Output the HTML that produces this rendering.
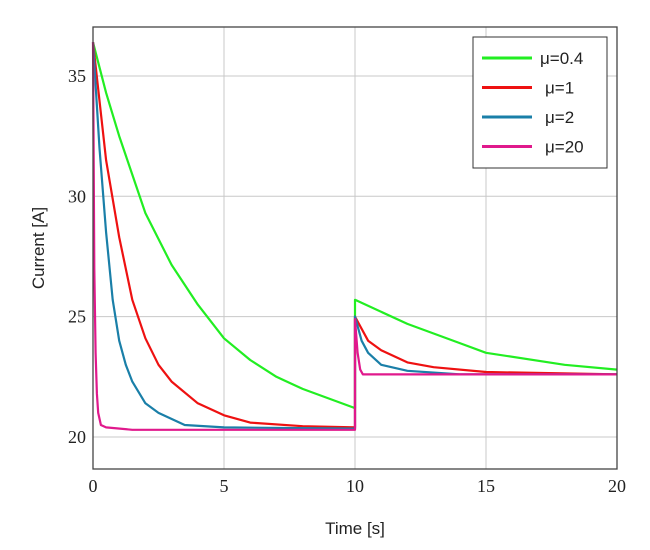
<!DOCTYPE html>
<html><head><meta charset="utf-8"><style>
body{margin:0;background:#fff;}
svg text{font-family:"Liberation Sans",sans-serif;}
.tick{font-family:"Liberation Serif",serif;font-size:18px;fill:#222;}
</style></head><body>
<svg width="650" height="545" xmlns="http://www.w3.org/2000/svg">
<g id="grid"></g><g id="series"></g><g id="ticks"></g>
<rect x="93" y="27" width="524" height="442" fill="none" stroke="#444" stroke-width="1.3"/>
<text x="44" y="248" font-size="17" fill="#222" text-anchor="middle" transform="rotate(-90 44 248)">Current [A]</text>
<text x="355" y="534" font-size="17" fill="#222" text-anchor="middle">Time [s]</text>
<g>
<rect x="473" y="37" width="134" height="131" fill="#fff" stroke="#333" stroke-width="1"/>
<g id="legend"></g>
</g>
</svg>
<script>
const xTicks=[0,5,10,15,20];
const yTicks=[20,25,30,35];
const labels=["μ=0.4","μ=1","μ=2","μ=20"];
const colors=["#22ee22","#ee1111","#1a7fa8","#e0198c"];
const t04=[0,0.5,1,1.5,2,3,4,5,6,7,8,10,10,12,14,15,18,20];
const v04=[36.4,34.3,32.5,30.9,29.3,27.15,25.5,24.1,23.2,22.5,22.0,21.2,25.7,24.7,23.9,23.5,23.0,22.8];
const t1=[0,0.5,1,1.5,2,2.5,3,4,5,6,8,10,10,10.5,11,12,13,15,20];
const v1=[36.4,31.5,28.3,25.7,24.1,23.0,22.3,21.4,20.9,20.6,20.45,20.4,25.0,24.0,23.6,23.1,22.9,22.7,22.6];
const t2=[0,0.25,0.5,0.75,1,1.25,1.5,2,2.5,3.5,5,10,10,10.25,10.5,11,12,14,20];
const v2=[36.4,32,28.5,25.7,24.0,23.0,22.3,21.4,21.0,20.5,20.4,20.35,25.0,24.0,23.5,23.0,22.75,22.6,22.6];
const t20=[0,0.05,0.1,0.15,0.2,0.3,0.5,1.5,10,10,10.1,10.2,10.3,20];
const v20=[36.4,27,23.5,21.8,21,20.5,20.4,20.3,20.3,24.9,23.5,22.8,22.6,22.6];
const X=v=>93+v*524/20;
const Y=v=>437-(v-20)*24.07;
const NS="http://www.w3.org/2000/svg";
function mk(tag,attrs,parent){const e=document.createElementNS(NS,tag);for(const k in attrs)e.setAttribute(k,attrs[k]);parent.appendChild(e);return e;}
const grid=document.getElementById('grid'),ticks=document.getElementById('ticks'),ser=document.getElementById('series'),leg=document.getElementById('legend');
xTicks.forEach(v=>{
 const l=mk('line',{x1:X(v),x2:X(v),y1:27,y2:469,stroke:'#c8c8c8','stroke-width':1},grid);
 
 
 const t=mk('text',{x:X(v),y:492,'text-anchor':'middle',class:'tick'},ticks);t.textContent=v;
 
 
});
yTicks.forEach(v=>{
 const l=mk('line',{x1:93,x2:617,y1:Y(v),y2:Y(v),stroke:'#c8c8c8','stroke-width':1},grid);
 
 
 const t=mk('text',{x:86,y:Y(v)+6,'text-anchor':'end',class:'tick'},ticks);t.textContent=v;
 
 
});
const series=[[t04,v04],[t1,v1],[t2,v2],[t20,v20]];
series.forEach((s,i)=>{
 const d=s[0].map((t,j)=>(j?'L':'M')+X(t).toFixed(1)+','+Y(s[1][j]).toFixed(1)).join(' ');
 const p=mk('path',{d:d,fill:'none',stroke:colors[i],'stroke-width':2.2,'stroke-linejoin':'round'},ser);
 
 
 const y=58+i*29.5;
 const l=mk('line',{x1:482,x2:532,y1:y,y2:y,stroke:colors[i],'stroke-width':3},leg);
 
 
 const t=mk('text',{x:i==0?540:545,y:y+6,'font-size':17,fill:'#222'},leg);t.textContent=labels[i];
 
 
});
</script>
</body></html>
